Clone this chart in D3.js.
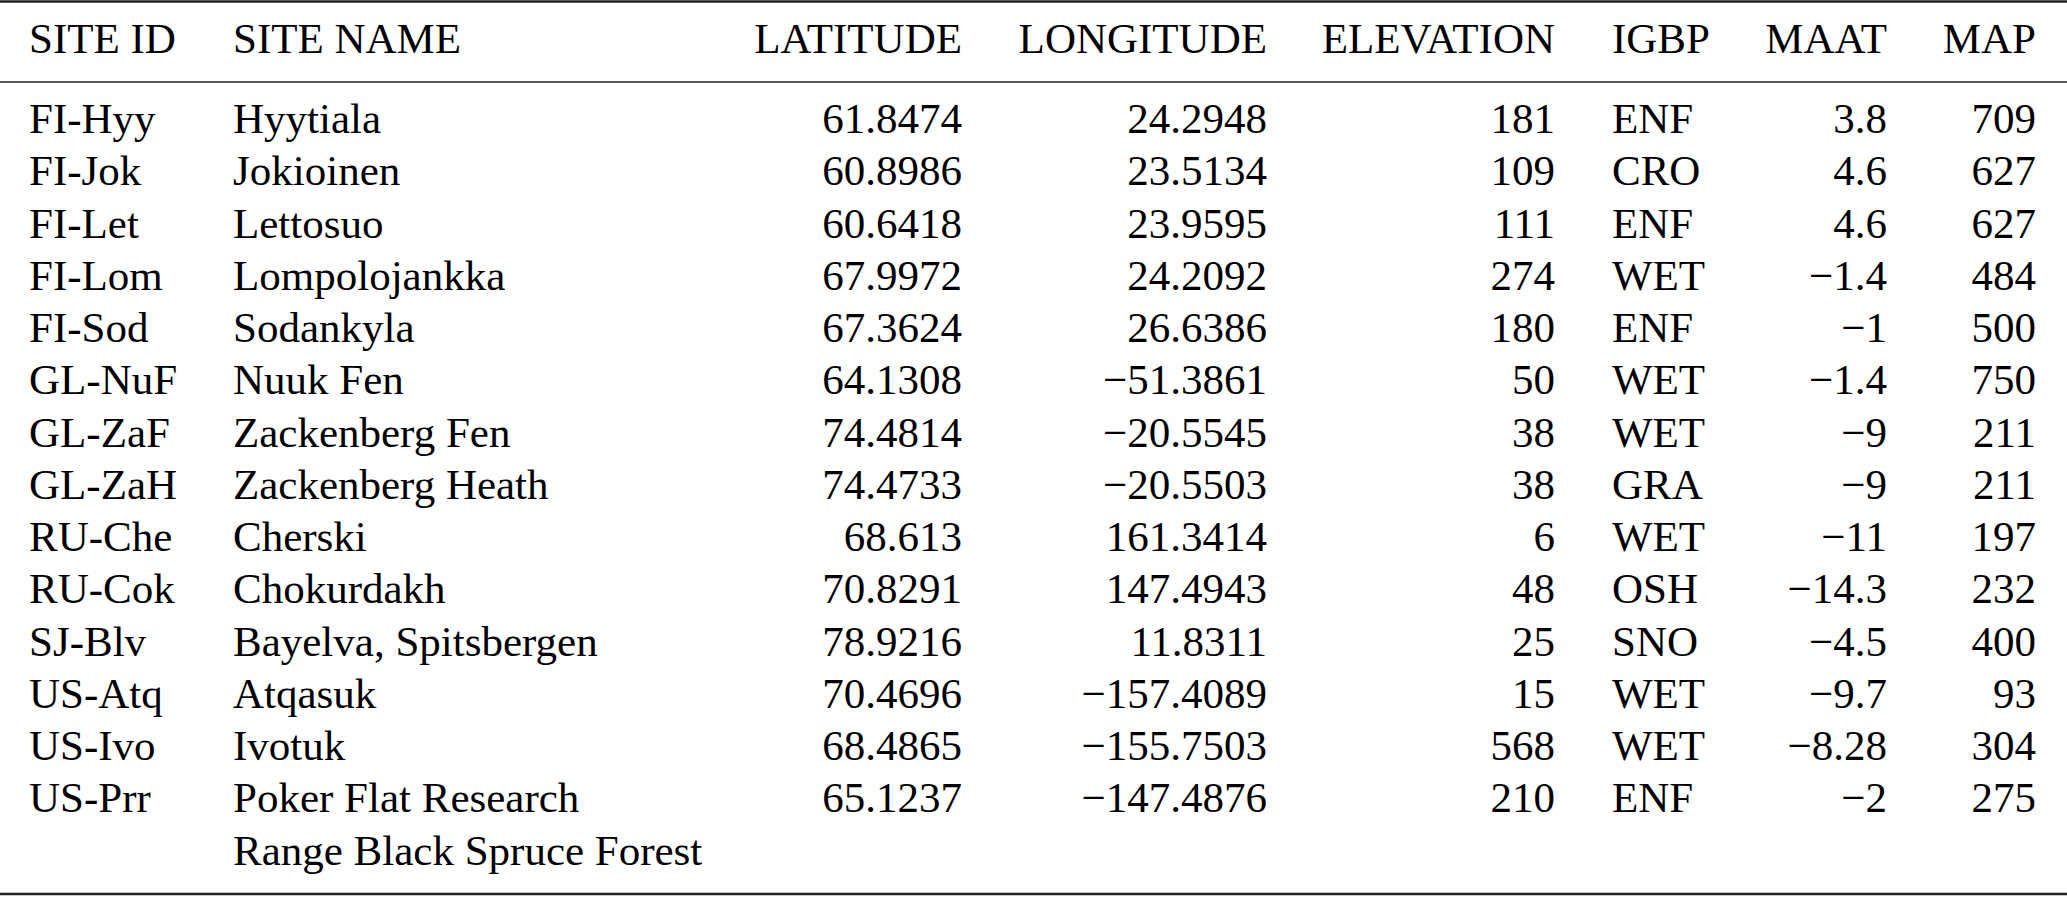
<!DOCTYPE html>
<html>
<head>
<meta charset="utf-8">
<script src="https://cdn.jsdelivr.net/npm/d3@7"></script>
<style>
  html, body { margin: 0; padding: 0; background: #fff; }
  svg { display: block; }
  text { font-family: "Liberation Serif", "Times New Roman", serif; font-size: 43px; fill: #000; }
</style>
</head>
<body>
<script>
// table content
var headers = ["SITE ID", "SITE NAME", "LATITUDE", "LONGITUDE", "ELEVATION", "IGBP", "MAAT", "MAP"];
var siteIds = ["FI-Hyy", "FI-Jok", "FI-Let", "FI-Lom", "FI-Sod", "GL-NuF", "GL-ZaF", "GL-ZaH",
               "RU-Che", "RU-Cok", "SJ-Blv", "US-Atq", "US-Ivo", "US-Prr"];
var siteNames = [["Hyytiala"], ["Jokioinen"], ["Lettosuo"], ["Lompolojankka"], ["Sodankyla"],
                 ["Nuuk Fen"], ["Zackenberg Fen"], ["Zackenberg Heath"], ["Cherski"], ["Chokurdakh"],
                 ["Bayelva, Spitsbergen"], ["Atqasuk"], ["Ivotuk"],
                 ["Poker Flat Research", "Range Black Spruce Forest"]];
var latitudes = [61.8474, 60.8986, 60.6418, 67.9972, 67.3624, 64.1308, 74.4814, 74.4733,
                 68.613, 70.8291, 78.9216, 70.4696, 68.4865, 65.1237];
var longitudes = [24.2948, 23.5134, 23.9595, 24.2092, 26.6386, -51.3861, -20.5545, -20.5503,
                  161.3414, 147.4943, 11.8311, -157.4089, -155.7503, -147.4876];
var elevations = [181, 109, 111, 274, 180, 50, 38, 38, 6, 48, 25, 15, 568, 210];
var igbp = ["ENF", "CRO", "ENF", "WET", "ENF", "WET", "WET", "GRA", "WET", "OSH", "SNO", "WET", "WET", "ENF"];
var maat = [3.8, 4.6, 4.6, -1.4, -1, -1.4, -9, -9, -11, -14.3, -4.5, -9.7, -8.28, -2];
var map = [709, 627, 627, 484, 500, 750, 211, 211, 197, 232, 400, 93, 304, 275];

var W = 2067, H = 897;

function fmt(v) { return String(v).replace("-", "\u2212"); }

var columns = [
  {key: "id",   x: 29,   anchor: "start", values: siteIds},
  {key: "name", x: 233,  anchor: "start", values: siteNames},
  {key: "lat",  x: 962,  anchor: "end",   values: latitudes.map(fmt)},
  {key: "lon",  x: 1267, anchor: "end",   values: longitudes.map(fmt)},
  {key: "elev", x: 1555, anchor: "end",   values: elevations.map(fmt)},
  {key: "igbp", x: 1612, anchor: "start", values: igbp},
  {key: "maat", x: 1887, anchor: "end",   values: maat.map(fmt)},
  {key: "map",  x: 2036, anchor: "end",   values: map.map(fmt)}
];
columns.forEach(function(c, i) { c.header = headers[i]; });

// baseline of each text line (14 rows + one wrapped line)
var y = d3.scaleLinear().domain([0, 14]).range([133, 864.5]);
var headerY = 53;

var svg = d3.select("body").append("svg")
    .attr("width", W)
    .attr("height", H);

// rules
svg.append("line").attr("x1", 0).attr("x2", W).attr("y1", 1.5).attr("y2", 1.5)
    .attr("stroke", "#222").attr("stroke-width", 2.5);
svg.append("line").attr("x1", 0).attr("x2", W).attr("y1", 82).attr("y2", 82)
    .attr("stroke", "#222").attr("stroke-width", 1.5);
svg.append("line").attr("x1", 0).attr("x2", W).attr("y1", 894).attr("y2", 894)
    .attr("stroke", "#222").attr("stroke-width", 2.5);

// headers
svg.append("g").selectAll("text")
    .data(columns)
  .enter().append("text")
    .attr("x", function(d) { return d.x; })
    .attr("y", headerY)
    .attr("text-anchor", function(d) { return d.anchor; })
    .text(function(d) { return d.header; });

// body cells
var cols = svg.append("g").selectAll("g")
    .data(columns)
  .enter().append("g")
    .attr("text-anchor", function(d) { return d.anchor; });

cols.each(function(c) {
  var g = d3.select(this);
  g.selectAll("text")
      .data(c.values)
    .enter().append("text")
      .attr("x", c.x)
      .attr("y", function(d, i) { return y(i); })
      .each(function(d) {
        var t = d3.select(this);
        if (Array.isArray(d)) {
          d.forEach(function(line, k) {
            t.append("tspan").attr("x", c.x).attr("dy", k === 0 ? 0 : y(1) - y(0)).text(line);
          });
        } else {
          t.text(d);
        }
      });
});
</script>
</body>
</html>
